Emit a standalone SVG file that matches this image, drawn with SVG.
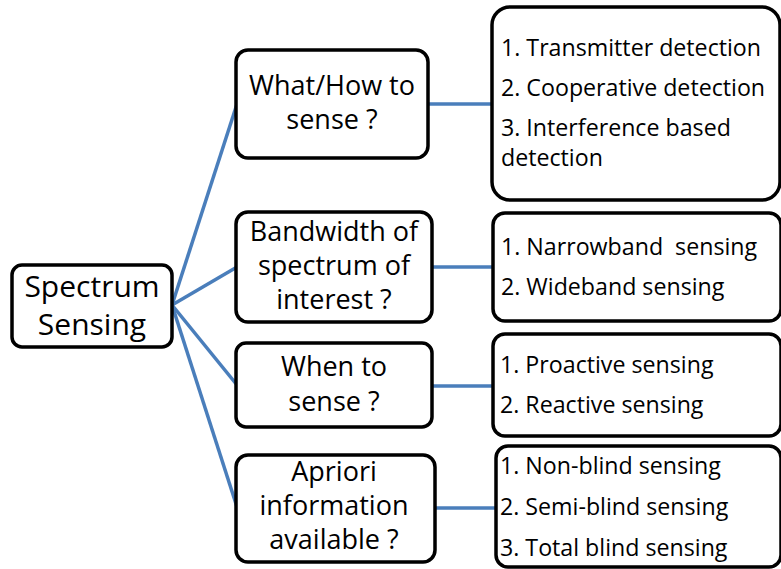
<svg xmlns="http://www.w3.org/2000/svg" width="781" height="569" viewBox="0 0 781 569">
<style>
.box{fill:#fff;stroke:#000;stroke-width:3.5}
.c{stroke:#4a7ebb;stroke-width:3.5;fill:none;stroke-linecap:butt}
text{font-family:"Open Sans","DejaVu Sans",sans-serif;fill:#000}
.l{font-size:30px;text-anchor:middle}
.m{font-size:27px;text-anchor:middle}
.r{font-size:23.2px;white-space:pre}
</style>
<rect width="781" height="569" fill="#fff"/>
<g id="connectors">
<line class="c" x1="172" y1="305" x2="237" y2="104"/>
<line class="c" x1="172" y1="305" x2="237" y2="267"/>
<line class="c" x1="172" y1="305" x2="237" y2="385"/>
<line class="c" x1="172" y1="305" x2="237" y2="507"/>
<line class="c" x1="428" y1="104" x2="491" y2="104"/>
<line class="c" x1="432" y1="267" x2="493" y2="267"/>
<line class="c" x1="432" y1="386" x2="493" y2="386"/>
<line class="c" x1="435" y1="508" x2="496" y2="508"/>
</g>
<g id="spectrum-sensing">
<rect class="box" x="12" y="265" width="160" height="82" rx="10"/>
<text class="l" x="92" y="297">Spectrum</text>
<text class="l" x="92" y="335">Sensing</text>
</g>
<g id="what-how">
<rect class="box" x="236" y="50" width="192" height="108" rx="12"/>
<text class="m" x="332" y="95">What/How to</text>
<text class="m" x="332" y="129">sense ?</text>
</g>
<g id="bandwidth">
<rect class="box" x="236" y="212" width="196" height="110" rx="12"/>
<text class="m" x="334" y="241">Bandwidth of</text>
<text class="m" x="334" y="275">spectrum of</text>
<text class="m" x="334" y="309">interest ?</text>
</g>
<g id="when">
<rect class="box" x="236" y="343" width="196" height="84" rx="10"/>
<text class="m" x="334" y="376">When to</text>
<text class="m" x="334" y="411">sense ?</text>
</g>
<g id="apriori">
<rect class="box" x="236" y="455" width="199" height="107" rx="12"/>
<text class="m" x="334" y="481">Apriori</text>
<text class="m" x="334" y="515">information</text>
<text class="m" x="334" y="549">available ?</text>
</g>
<g id="detection-list">
<rect class="box" x="492" y="7" width="288" height="193" rx="18"/>
<text class="r" x="501" y="56">1. Transmitter detection</text>
<text class="r" x="501" y="96">2. Cooperative detection</text>
<text class="r" x="501" y="136">3. Interference based</text>
<text class="r" x="501" y="166">detection</text>
</g>
<g id="bandwidth-list">
<rect class="box" x="493" y="213" width="288" height="108" rx="12"/>
<text class="r" x="501" y="255" xml:space="preserve">1. Narrowband  sensing</text>
<text class="r" x="501" y="295">2. Wideband sensing</text>
</g>
<g id="when-list">
<rect class="box" x="493" y="334" width="288" height="102" rx="12"/>
<text class="r" x="500" y="373">1. Proactive sensing</text>
<text class="r" x="500" y="413">2. Reactive sensing</text>
</g>
<g id="apriori-list">
<rect class="box" x="496" y="446" width="285" height="121" rx="12"/>
<text class="r" x="500" y="474">1. Non-blind sensing</text>
<text class="r" x="500" y="515">2. Semi-blind sensing</text>
<text class="r" x="500" y="556">3. Total blind sensing</text>
</g>
</svg>
